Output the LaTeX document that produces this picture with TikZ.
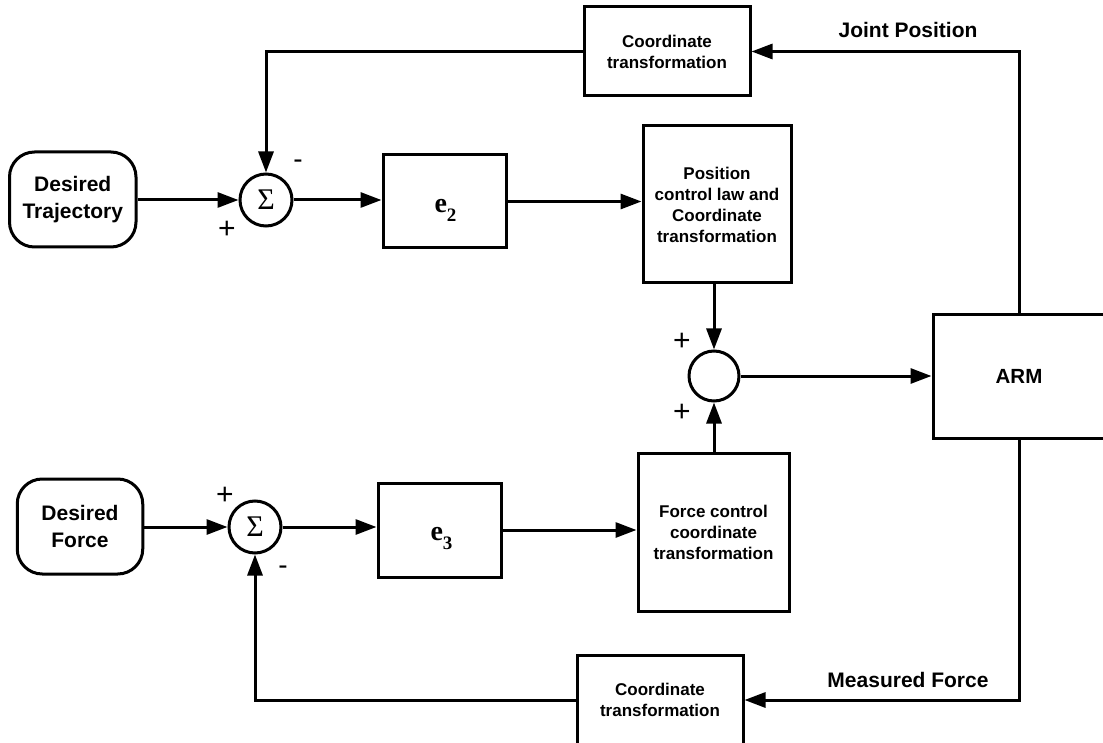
\documentclass[tikz,border=0pt]{standalone}
\usepackage{fontspec}
\setmainfont{Liberation Sans}
\newfontfamily\serifff{Liberation Serif}
\usetikzlibrary{arrows.meta}
\begin{document}
\begin{tikzpicture}[x=1pt,y=-1pt,
  line width=3pt,
  >={Triangle[length=21pt,width=15pt]},
  blk/.style={draw, rectangle, inner sep=0pt, align=center,
    font=\fontsize{17}{21}\selectfont\bfseries},
  rnd/.style={draw, rectangle, rounded corners=25pt, inner sep=0pt, align=center,
    font=\fontsize{21}{26.5}\selectfont\bfseries},
  sumc/.style={draw, circle, inner sep=0pt, minimum size=52pt,
    font=\serifff\fontsize{30}{30}\selectfont},
  etext/.style={anchor=base west, inner sep=0pt,
    font=\serifff\bfseries\fontsize{28}{28}\selectfont},
  lbl/.style={inner sep=0pt, font=\fontsize{21}{21}\selectfont\bfseries},
  plus/.style={inner sep=0pt, font=\fontsize{30}{30}\selectfont},
  minus/.style={inner sep=0pt, font=\fontsize{28}{28}\selectfont}]
\useasboundingbox (0,0) rectangle (1103,743);
\clip (0,0) rectangle (1103,743);

% blocks
\node[blk, minimum width=166pt, minimum height=89pt] (ct1) at (667,51.5) {Coordinate\\transformation};
\node[rnd, minimum width=126.5pt, minimum height=95pt] (dt) at (72.75,199.5) {Desired\\Trajectory};
\node[sumc] (s1) at (266,200) {Σ};
\node[draw, rectangle, minimum width=123pt, minimum height=93pt] (e2) at (444.5,201.5) {};
\node[etext] at (433,213) {e\raisebox{-9pt}{\fontsize{19}{19}\selectfont 2}};
\node[blk, minimum width=148pt, minimum height=157pt] (pos) at (717,204.5) {Position\\control law and\\Coordinate\\transformation};
\node[draw, circle, inner sep=0pt, minimum size=50pt] (sm) at (714,376) {};
\node[draw, rectangle, inner sep=0pt, minimum width=172pt, minimum height=123pt,
  font=\fontsize{20.5}{21}\selectfont\bfseries] (arm) at (1019,376.5) {ARM};
\node[rnd, minimum width=125.5pt, minimum height=95pt] (df) at (80,526.5) {Desired\\Force};
\node[sumc] (s2) at (255,527) {Σ};
\node[draw, rectangle, minimum width=123pt, minimum height=94pt] (e3) at (439.5,530) {};
\node[etext] at (429,540) {e\raisebox{-9pt}{\fontsize{19}{19}\selectfont 3}};
\node[blk, minimum width=151pt, minimum height=158pt] (force) at (713.5,532) {Force control\\coordinate\\transformation};
\node[blk, minimum width=166pt, minimum height=90pt] (ct2) at (660,700) {Coordinate\\transformation};

% labels
\node[lbl] at (908,30) {Joint Position};
\node[lbl] at (908,680) {Measured Force};
\node[minus] at (298,164) {-};
\node[plus] at (227,230) {+};
\node[plus] at (682,342) {+};
\node[plus] at (682,413) {+};
\node[plus] at (225,496) {+};
\node[minus] at (283,570) {-};

% connectors
\draw[->] (dt.east |- s1) -- (s1.west);
\draw[->] (s1.east) -- (e2.west |- s1.east);
\draw[->] (e2.east) -- (pos.west |- e2.east);
\draw[->] (sm.north |- pos.south) -- (sm.north);
\draw[->] (sm.south |- force.north) -- (sm.south);
\draw[->] (sm.east) -- (arm.west |- sm.east);
\draw[->] (arm.north) |- (ct1.east);
\draw[->] (ct1.west) -| (s1.north);
\draw[->] (arm.south) |- (ct2.east);
\draw[->] (ct2.west) -| (s2.south);
\draw[->] (df.east |- s2) -- (s2.west);
\draw[->] (s2.east) -- (e3.west |- s2.east);
\draw[->] (e3.east) -- (force.west |- e3.east);
\end{tikzpicture}
\end{document}
